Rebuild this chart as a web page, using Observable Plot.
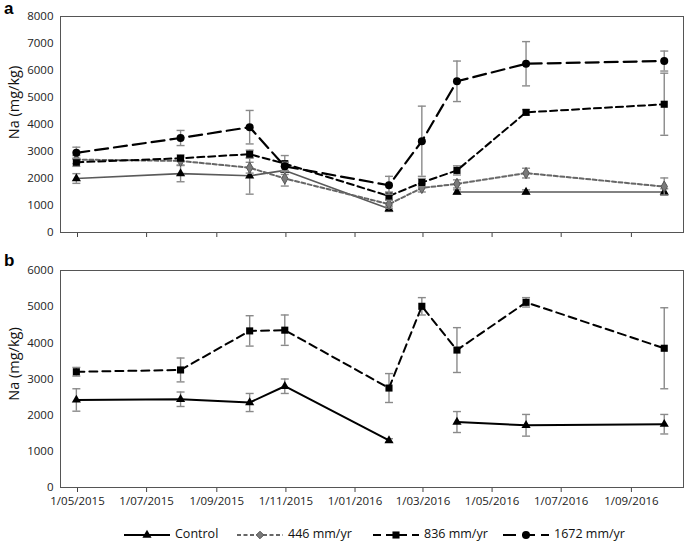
<!DOCTYPE html>
<html><head><meta charset="utf-8">
<script src="https://cdn.jsdelivr.net/npm/d3@7"></script>
<script src="https://cdn.jsdelivr.net/npm/@observablehq/plot@0.6"></script>
<style>
body{margin:0;background:#fff;font-family:"Open Sans",sans-serif}
#wrap{position:relative;width:685px;height:544px;overflow:hidden;background:#fff}
.panel{font-family:"Liberation Sans",Arial,sans-serif;font-weight:bold;font-size:17px;color:#000;line-height:17px}
.leg{font-size:12.5px;color:#111;line-height:14px;white-space:nowrap}
</style></head><body><div id="wrap"></div>
<script>
// ---------- data ----------
const sampleDates = ["2015-05-15","2015-08-15","2015-10-15","2015-11-15","2016-02-15","2016-03-15","2016-04-15","2016-06-15","2016-10-15"];
const seriesNames = ["Control","446 mm/yr","836 mm/yr","1672 mm/yr"];

// panel a
const aControl    = [2000, 2180, 2100, 2300,  880, null, 1500, 1500, 1500];
const aControlErr = [ 180,  300,  680,  150,  100, null,   80,   80,  120];
const a446        = [2700, 2650, 2400, 2000, 1050, 1650, 1800, 2200, 1700];
const a446Err     = [ 150,  150,  200,  280,  150,  150,  150,  180,  320];
const a836        = [2600, 2750, 2900, 2550, 1350, 1850, 2300, 4450, 4750];
const a836Err     = [ 150,  120,  150,  300,  150,  150,  170,  100, 1150];
const a1672       = [2950, 3500, 3900, 2450, 1750, 3380, 5600, 6250, 6350];
const a1672Err    = [ 210,  280,  620,  150,  330, 1300,  750,  820,  370];

// panel b
const bControl    = [2420, 2440, 2350, 2800, 1300, null, 1810, 1720, 1750];
const bControlErr = [ 310,  200,  250,  200,   50, null,  290,  300,  270];
const b836        = [3200, 3250, 4330, 4350, 2750, 5010, 3800, 5120, 3850];
const b836Err     = [ 120,  330,  420,  420,  400,  240,  620,  130, 1120];

// axes
const xDomain = ["2015-05-01","2016-11-01"];
const tickDates = ["2015-05-01","2015-07-01","2015-09-01","2015-11-01","2016-01-01","2016-03-01","2016-05-01","2016-07-01","2016-09-01","2016-11-01"];
const tickLabels = ["1/05/2015","1/07/2015","1/09/2015","1/11/2015","1/01/2016","1/03/2016","1/05/2016","1/07/2016","1/09/2016",""];
const yTicksA = [0,1000,2000,3000,4000,5000,6000,7000,8000];
const yTicksB = [0,1000,2000,3000,4000,5000,6000];
const yLabel = ["Na (mg/kg)"];
const panelLabels = ["a","b"];

// ---------- helpers ----------
const parse = s => new Date(s + "T00:00:00Z");
const dates = sampleDates.map(parse);
const ticks = tickDates.map(parse);
const fmtTick = d => tickLabels[ticks.findIndex(t => +t === +d)] ?? "";
const rows = (vals, errs) => dates.map((d, i) => ({date: d, v: vals[i], lo: vals[i] == null ? null : vals[i] - errs[i], hi: vals[i] == null ? null : vals[i] + errs[i]}));
const cap = {draw(ctx, size){ const w = Math.sqrt(size / Math.PI); ctx.moveTo(-w, 0); ctx.lineTo(w, 0); }};
const ERR = "#8a8a8a";

function seriesMarks(data, style){
  const d = data.filter(r => r.v != null);
  return [
    Plot.ruleX(d, {x: "date", y1: "lo", y2: "hi", stroke: ERR, strokeWidth: 1.4}),
    Plot.dot(d, {x: "date", y: "lo", symbol: cap, r: 4, stroke: ERR, strokeWidth: 1.4, fill: "none"}),
    Plot.dot(d, {x: "date", y: "hi", symbol: cap, r: 4, stroke: ERR, strokeWidth: 1.4, fill: "none"}),
    Plot.line(data, {x: "date", y: "v", stroke: style.stroke, strokeWidth: style.width, strokeDasharray: style.dash, curve: "linear"}),
    Plot.dot(d, {x: "date", y: "v", symbol: style.symbol, r: style.r, fill: style.fill, stroke: style.mstroke || "none", strokeWidth: 1})
  ];
}

function panel({height, marginTop, marginBottom, yMax, yTicks, series, showLabels, labelDy}){
  return Plot.plot({
    width: 685, height, marginTop, marginBottom, marginLeft: 60, marginRight: 2,
    style: {fontFamily: "'Open Sans', sans-serif", fontSize: "11px", color: "#222", background: "white"},
    x: {type: "utc", domain: xDomain.map(parse)},
    y: {domain: [0, yMax]},
    marks: [
      Plot.axisY({ticks: yTicks, tickSize: 0, tickPadding: 7, label: null, fontSize: 11.5, tickFormat: d => String(d)}),
      Plot.axisX({ticks, tickSize: 5, tickPadding: 4, label: null, stroke: "#444",
        tickFormat: showLabels ? fmtTick : () => "", dx: 17, fontSize: 11.5}),
      ...series.flatMap(s => seriesMarks(s.data, s.style)),
      Plot.frame({stroke: "#555", strokeWidth: 1}),
      Plot.text(yLabel, {frameAnchor: "left", textAnchor: "middle", lineAnchor: "middle", dx: -46, dy: labelDy, rotate: -90, fontSize: 14.5, fill: "#111"})
    ]
  });
}

const S = {
  control: {stroke: "#5a5a5a", width: 1.6, dash: null, symbol: "triangle", r: 3.4, fill: "#000"},
  controlB: {stroke: "#000", width: 2, dash: null, symbol: "triangle", r: 3.4, fill: "#000"},
  s446: {stroke: "#666", width: 2, dash: "4,2.5", symbol: "diamond", r: 3.4, fill: "#7a7a7a", mstroke: "#555"},
  s836: {stroke: "#000", width: 2, dash: "7,4", symbol: "square", r: 4, fill: "#000"},
  s836B: {stroke: "#000", width: 2, dash: "8,5", symbol: "square", r: 4, fill: "#000"},
  s1672: {stroke: "#000", width: 2.2, dash: "13,6", symbol: "circle", r: 4, fill: "#000"}
};

const topChart = panel({height: 245, marginTop: 16, marginBottom: 13, yMax: 8000, yTicks: yTicksA, showLabels: false, labelDy: -22,
  series: [
    {data: rows(aControl, aControlErr), style: S.control},
    {data: rows(a446, a446Err), style: S.s446},
    {data: rows(a836, a836Err), style: S.s836},
    {data: rows(a1672, a1672Err), style: S.s1672}
  ]});
const botChart = panel({height: 270, marginTop: 20, marginBottom: 33, yMax: 6000, yTicks: yTicksB, showLabels: true, labelDy: -15,
  series: [
    {data: rows(bControl, bControlErr), style: S.controlB},
    {data: rows(b836, b836Err), style: S.s836B}
  ]});

const wrap = document.getElementById("wrap");
function place(el, left, top){ el.style.position = "absolute"; el.style.left = left + "px"; el.style.top = top + "px"; wrap.appendChild(el); }
place(topChart, 0, 0);
place(botChart, 0, 250);

const pa = document.createElement("div"); pa.className = "panel"; pa.textContent = panelLabels[0]; place(pa, 4, 0);
const pb = document.createElement("div"); pb.className = "panel"; pb.textContent = panelLabels[1]; place(pb, 4, 252);

// legend
const legendStyles = [S.controlB, S.s446, S.s836B, S.s1672];
const legendX = [124, 237, 373, 503];
const symbolPaths = {triangle: d3.symbolTriangle, diamond: d3.symbolDiamond2, square: d3.symbolSquare, circle: d3.symbolCircle};
seriesNames.forEach((name, i) => {
  const st = legendStyles[i];
  const sw = d3.create("svg").attr("width", 46).attr("height", 12);
  sw.append("line").attr("x1", 0).attr("x2", 46).attr("y1", 6).attr("y2", 6)
    .attr("stroke", i === 1 ? "#666" : "#000").attr("stroke-width", 2).attr("stroke-dasharray", st.dash);
  sw.append("path").attr("transform", "translate(23,6)")
    .attr("d", d3.symbol(symbolPaths[st.symbol], st.r * st.r * Math.PI)())
    .attr("fill", st.fill).attr("stroke", st.mstroke || "none");
  place(sw.node(), legendX[i], 529);
  const t = document.createElement("div"); t.className = "leg"; t.textContent = name;
  place(t, legendX[i] + 51, 527);
});
</script></body></html>
